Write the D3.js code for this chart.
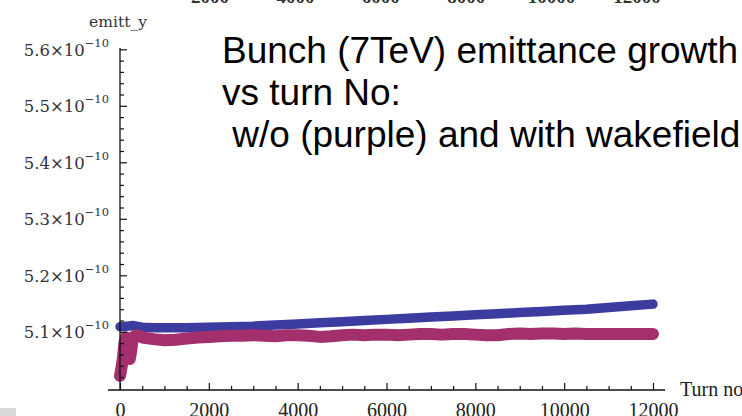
<!DOCTYPE html>
<html>
<head>
<meta charset="utf-8">
<script src="https://cdn.jsdelivr.net/npm/d3@7"></script>
<style>
  html, body { margin: 0; padding: 0; background: #fff; }
  svg { display: block; }
</style>
</head>
<body>
<svg id="chart" width="742" height="416"></svg>
<script>
// Emittance (units of 1e-10) versus turn number, two runs.
const turnsPurple = [0, 20, 40, 60, 80, 100, 130, 160, 190, 220, 250, 280, 320, 400, 500, 750,
  1000, 1250, 1500, 1750, 2000, 2250, 2500, 2750, 3000, 3250, 3500, 3750, 4000, 4250, 4500,
  4750, 5000, 5250, 5500, 5750, 6000, 6250, 6500, 6750, 7000, 7250, 7500, 7750, 8000, 8250,
  8500, 8750, 9000, 9250, 9500, 9750, 10000, 10250, 10500, 10750, 11000, 11250, 11500, 11750, 12000];
const emittPurple = [5.022, 5.030, 5.040, 5.050, 5.065, 5.080, 5.090, 5.075, 5.060, 5.052, 5.065,
  5.085, 5.092, 5.094, 5.090, 5.087,
  5.085, 5.086, 5.088, 5.090, 5.091, 5.092, 5.093, 5.093, 5.094, 5.093, 5.092, 5.094, 5.094, 5.093, 5.091,
  5.092, 5.094, 5.095, 5.094, 5.095, 5.095, 5.094, 5.095, 5.096, 5.096, 5.095, 5.096, 5.096, 5.095, 5.094,
  5.094, 5.096, 5.097, 5.096, 5.097, 5.097, 5.096, 5.097, 5.096, 5.096, 5.096, 5.096, 5.096, 5.096, 5.096];

const turnsBlue = [0, 150, 300, 500, 750, 1000, 1500, 2000, 2500, 3000, 3500, 4000, 4500, 5000,
  5500, 6000, 6500, 7000, 7500, 8000, 8500, 9000, 9500, 10000, 10500, 11000, 11500, 12000];
const emittBlue = [5.109, 5.110, 5.111, 5.108, 5.107, 5.107, 5.107, 5.108, 5.109, 5.110, 5.112,
  5.114, 5.116, 5.118, 5.120, 5.122, 5.124, 5.126, 5.128, 5.130, 5.132, 5.134, 5.136, 5.138,
  5.140, 5.143, 5.146, 5.149];

const xMajorTicks = [0, 2000, 4000, 6000, 8000, 10000, 12000];
const yMajorTicks = [5.1, 5.2, 5.3, 5.4, 5.5, 5.6];
const stripTicks = [2000, 4000, 6000, 8000, 10000, 12000];
const noteLines = ["Bunch (7TeV) emittance growth", "vs turn No:", " w/o (purple) and with wakefield"];

const svg = d3.select("#chart");
const serif = "'Liberation Serif', 'DejaVu Serif', serif";
const wideSerif = "'DejaVu Serif', serif";

const x = d3.scaleLinear().domain([0, 12000]).range([120, 653]);
const y = d3.scaleLinear().domain([4.997, 5.6]).range([390, 49.3]);

// tick labels of the panel above, cut by the top edge
const xStrip = d3.scaleLinear().domain([2000, 12000]).range([210, 637]);
svg.append("g").selectAll("text").data(stripTicks).join("text")
  .attr("x", d => xStrip(d)).attr("y", 3)
  .attr("text-anchor", "middle")
  .attr("font-family", serif).attr("font-size", 19).attr("font-weight", "bold")
  .attr("fill", "#333").text(d => d);

// corner patch
svg.append("rect").attr("x", 0).attr("y", 408).attr("width", 16).attr("height", 8).attr("fill", "#d9d9d9");

// data bands
const line = d3.line().x(d => x(d[0])).y(d => y(d[1])).curve(d3.curveLinear);
svg.append("path")
  .datum(d3.zip(turnsBlue, emittBlue))
  .attr("d", line).attr("fill", "none")
  .attr("stroke", "#3c3ca0").attr("stroke-width", 9.5)
  .attr("stroke-linejoin", "round").attr("stroke-linecap", "round");
svg.append("path")
  .datum(d3.zip(turnsPurple, emittPurple))
  .attr("d", line).attr("fill", "none")
  .attr("stroke", "#a3306c").attr("stroke-width", 12)
  .attr("stroke-linejoin", "round").attr("stroke-linecap", "round");

// x axis
const xAxisG = svg.append("g").attr("transform", "translate(0,390)");
xAxisG.call(d3.axisBottom(x).tickValues(d3.range(0, 12001, 500).filter(v => v % 2000 !== 0))
  .tickSize(-4).tickFormat(""));
xAxisG.call(g => g.select(".domain").remove());
const xMajG = svg.append("g").attr("transform", "translate(0,390)");
xMajG.call(d3.axisBottom(x).tickValues(xMajorTicks).tickSize(-7).tickPadding(0).tickFormat(d3.format("d")));
xMajG.select(".domain").remove();
xMajG.selectAll("text").attr("font-family", serif).attr("font-size", 20).attr("fill", "#222")
  .attr("y", 26.5).attr("dy", null);
svg.append("line").attr("x1", 108).attr("x2", 665).attr("y1", 390).attr("y2", 390)
  .attr("stroke", "#111").attr("stroke-width", 1.3);

// y axis
const yMinG = svg.append("g").attr("transform", "translate(120,0)");
yMinG.call(d3.axisLeft(y).tickValues(d3.range(5.0, 5.6001, 0.02).filter(v => Math.abs(v * 10 - Math.round(v * 10)) > 0.01))
  .tickSize(-4).tickFormat(""));
yMinG.select(".domain").remove();
const yMajG = svg.append("g").attr("transform", "translate(120,0)");
yMajG.call(d3.axisLeft(y).tickValues(yMajorTicks).tickSize(-7).tickPadding(11).tickFormat(""));
yMajG.select(".domain").remove();
yMajG.selectAll(".tick").each(function(d) {
  const t = d3.select(this).select("text")
    .attr("font-family", wideSerif).attr("fill", "#333").attr("dy", null).attr("y", 6);
  t.append("tspan").attr("font-size", 16.5).text(d.toFixed(1) + "\u00d710");
  t.append("tspan").attr("font-size", 11.5).attr("dy", -9).text("\u221210");
});
svg.append("line").attr("x1", 120).attr("x2", 120).attr("y1", 48).attr("y2", 390)
  .attr("stroke", "#111").attr("stroke-width", 1.3);
svg.selectAll(".tick line").attr("stroke", "#111").attr("stroke-width", 1.2);

// axis titles
svg.append("text").attr("x", 118).attr("y", 27).attr("text-anchor", "middle")
  .attr("font-family", wideSerif).attr("font-size", 15.5).attr("fill", "#333").text("emitt_y");
svg.append("text").attr("x", 680).attr("y", 396)
  .attr("font-family", serif).attr("font-size", 20).attr("fill", "#222").text("Turn no");

// annotation
svg.append("g").selectAll("text").data(noteLines).join("text")
  .attr("x", 222).attr("y", (d, i) => 63 + i * 42)
  .attr("xml:space", "preserve").style("white-space", "pre")
  .attr("font-family", "'Liberation Sans', Arial, sans-serif").attr("font-size", 37)
  .attr("fill", "#000").text(d => d);
</script>
</body>
</html>
